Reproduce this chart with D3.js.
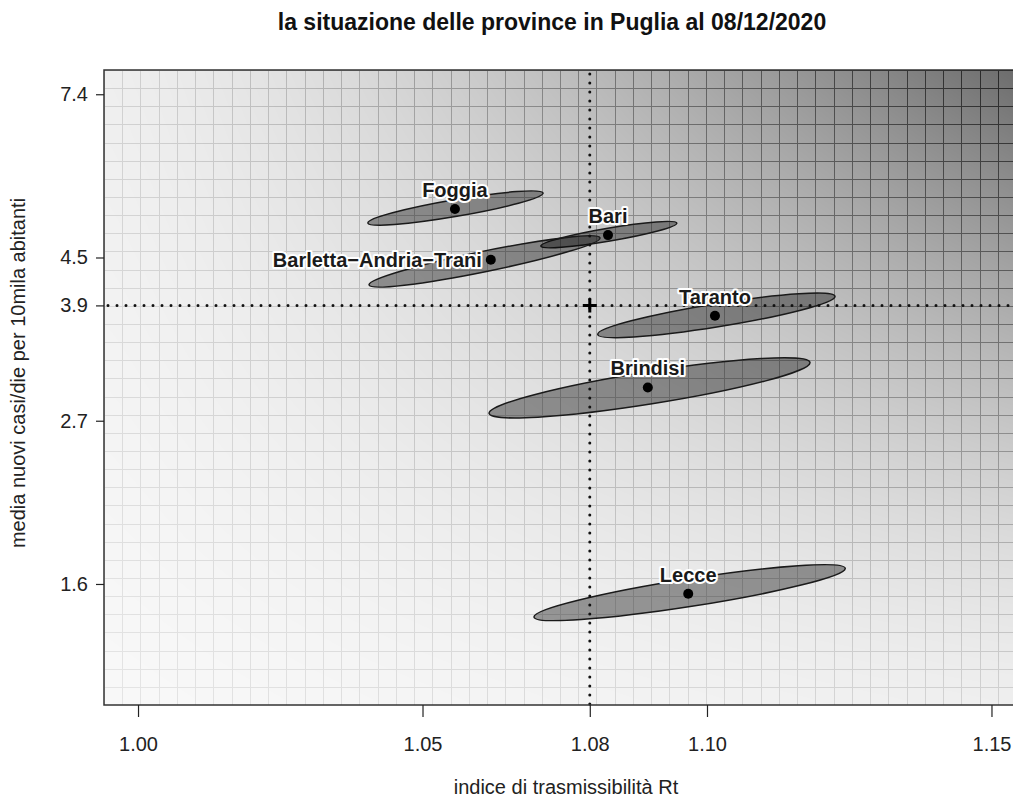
<!DOCTYPE html>
<html><head><meta charset="utf-8">
<script src="https://cdn.jsdelivr.net/npm/d3@7"></script>
<style>
html,body{margin:0;padding:0;background:#fff;}
svg{display:block;font-family:"Liberation Sans",Arial,sans-serif;}
</style></head><body>
<svg id="chart" width="1013" height="799"></svg>
<script>
// ---------- data ----------
const title = "la situazione delle province in Puglia al 08/12/2020";
const xTitle = "indice di trasmissibilità Rt";
const yTitle = "media nuovi casi/die per 10mila abitanti";

const provinces   = ["Foggia", "Bari", "Barletta\u2212Andria\u2212Trani", "Taranto", "Brindisi", "Lecce"];
const rtValues    = [1.0557, 1.0826, 1.0620, 1.1014, 1.0896, 1.0967];
const caseValues  = [5.20, 4.80, 4.45, 3.75, 3.01, 1.60];
// ellipse tips (uncertainty region)
const rtLow        = [1.0404, 1.0708, 1.0406, 1.0808, 1.0617, 1.0696];
const casesAtLow   = [4.98, 4.64, 4.12, 3.54, 2.78, 1.49];
const rtHigh       = [1.0712, 1.0947, 1.0812, 1.1225, 1.1181, 1.1243];
const casesAtHigh  = [5.46, 4.98, 4.76, 3.98, 3.25, 1.73];
const caseSpread   = [0.026, 0.020, 0.032, 0.036, 0.050, 0.043]; // half thickness, log units
const labelSide    = ["top", "top", "left", "top", "top", "top"];

const regionRt = 1.0794;
const regionCases = 3.87;

const xTickValues = [1.00, 1.05, 1.0794, 1.10, 1.15];
const xTickLabels = ["1.00", "1.05", "1.08", "1.10", "1.15"];
const yTickValues = [1.6487, 2.7183, 3.87, 4.4817, 7.3891];
const yTickLabels = ["1.6", "2.7", "3.9", "4.5", "7.4"];

const xDomain = [0.99402, 1.15431];
const yDomain = [1.138, 7.959];

// ---------- layout ----------
const svg = d3.select("#chart");
const plot = {left: 104, top: 70, right: 1016, bottom: 705};
const x = d3.scaleLinear().domain(xDomain).range([plot.left, plot.right]);
const y = d3.scaleLog().domain(yDomain).range([plot.bottom, plot.top]);
const FONT = '"Liberation Sans", Arial, sans-serif';

// ---------- shaded background with grid ----------
(function(){
  const W = plot.right - plot.left, H = plot.bottom - plot.top;
  const cv = document.createElement("canvas");
  cv.width = W; cv.height = H;
  const ctx = cv.getContext("2d");
  const img = ctx.createImageData(W, H);
  const sx = W / 50, sy = H / 35;
  for (let py = 0; py < H; py++) {
    const v = 1 - py / H;
    const onH = Math.abs(py - Math.round(py / sy) * sy) < 0.5;
    for (let px = 0; px < W; px++) {
      const u = px / W;
      let b = 0.975 - 0.04 * (u + v) - 0.47 * Math.pow(u * v, 1.45);
      const onV = Math.abs(px - Math.round(px / sx) * sx) < 0.5;
      if (onV || onH) b = Math.pow(b, 2.2) * 0.95;
      const c = Math.round(b * 255);
      const k = (py * W + px) * 4;
      img.data[k] = c; img.data[k+1] = c; img.data[k+2] = c; img.data[k+3] = 255;
    }
  }
  ctx.putImageData(img, 0, 0);
  svg.append("image")
    .attr("x", plot.left).attr("y", plot.top)
    .attr("width", W).attr("height", H)
    .attr("href", cv.toDataURL());
})();

// ---------- ellipses ----------
const gEll = svg.append("g");
provinces.forEach((p, i) => {
  const x1 = x(rtLow[i]), y1 = y(casesAtLow[i]);
  const x2 = x(rtHigh[i]), y2 = y(casesAtHigh[i]);
  const cx = (x1 + x2) / 2, cy = (y1 + y2) / 2;
  const a = Math.hypot(x2 - x1, y2 - y1) / 2;
  const th = Math.atan2(y2 - y1, x2 - x1);
  const cCenter = y.invert(cy);
  const vpx = y(cCenter / Math.exp(caseSpread[i])) - cy;
  const b = vpx * Math.cos(th);
  gEll.append("ellipse")
    .attr("cx", cx).attr("cy", cy).attr("rx", a).attr("ry", b)
    .attr("transform", `rotate(${th * 180 / Math.PI} ${cx} ${cy})`)
    .attr("fill", "#000").attr("fill-opacity", 0.38)
    .attr("stroke", "#1a1a1a").attr("stroke-width", 1.5);
});

// ---------- reference dotted lines ----------
svg.append("line")
  .attr("x1", x(regionRt)).attr("x2", x(regionRt))
  .attr("y1", plot.top + 4).attr("y2", plot.bottom)
  .attr("stroke", "#111").attr("stroke-width", 3)
  .attr("stroke-linecap", "round").attr("stroke-dasharray", "0 9");
svg.append("line")
  .attr("x1", plot.left + 4).attr("x2", plot.right)
  .attr("y1", y(regionCases)).attr("y2", y(regionCases))
  .attr("stroke", "#111").attr("stroke-width", 3)
  .attr("stroke-linecap", "round").attr("stroke-dasharray", "0 9");
// crosshair
const cxr = x(regionRt), cyr = y(regionCases);
svg.append("path")
  .attr("d", `M${cxr-7},${cyr}H${cxr+7}M${cxr},${cyr-7}V${cyr+7}`)
  .attr("stroke", "#000").attr("stroke-width", 3);

// ---------- points ----------
svg.append("g").selectAll("circle").data(provinces).join("circle")
  .attr("cx", (d, i) => x(rtValues[i]))
  .attr("cy", (d, i) => y(caseValues[i]))
  .attr("r", 5).attr("fill", "#000");

// ---------- labels ----------
svg.append("g").selectAll("text").data(provinces).join("text")
  .attr("x", (d, i) => labelSide[i] === "left" ? x(rtValues[i]) - 9 : x(rtValues[i]))
  .attr("y", (d, i) => labelSide[i] === "left" ? y(caseValues[i]) + 7 : y(caseValues[i]) - 12)
  .attr("text-anchor", (d, i) => labelSide[i] === "left" ? "end" : "middle")
  .attr("font-size", 20).attr("font-weight", "bold").attr("font-family", FONT)
  .attr("fill", "#1a1a1a").attr("stroke", "#fff").attr("stroke-width", 4)
  .attr("stroke-linejoin", "round").attr("paint-order", "stroke")
  .text(d => d);

// ---------- frame ----------
svg.append("rect")
  .attr("x", plot.left).attr("y", plot.top)
  .attr("width", plot.right - plot.left).attr("height", plot.bottom - plot.top)
  .attr("fill", "none").attr("stroke", "#333").attr("stroke-width", 1.5);

// ---------- axes ----------
const yAxis = svg.append("g").attr("transform", `translate(${plot.left},0)`)
  .call(d3.axisLeft(y).tickValues(yTickValues)
    .tickFormat((d, i) => yTickLabels[i]).tickSize(8).tickPadding(8));
const xAxis = svg.append("g").attr("transform", `translate(0,${plot.bottom})`)
  .call(d3.axisBottom(x).tickValues(xTickValues)
    .tickFormat((d, i) => xTickLabels[i]).tickSize(12).tickPadding(20));
[xAxis, yAxis].forEach(g => {
  g.select(".domain").remove();
  g.selectAll(".tick line").attr("stroke", "#222").attr("stroke-width", 1.2);
  g.selectAll(".tick text").attr("font-size", 20).attr("fill", "#222")
    .attr("font-family", FONT);
});

// ---------- titles ----------
svg.append("text").attr("x", 552).attr("y", 30).attr("text-anchor", "middle")
  .attr("font-size", 23).attr("font-weight", "bold").attr("fill", "#111")
  .attr("font-family", FONT).text(title);
svg.append("text").attr("x", 566).attr("y", 794).attr("text-anchor", "middle")
  .attr("font-size", 20).attr("fill", "#222").attr("font-family", FONT).text(xTitle);
svg.append("text").attr("transform", "translate(25,373) rotate(-90)")
  .attr("text-anchor", "middle").attr("font-size", 20).attr("fill", "#222")
  .attr("font-family", FONT).text(yTitle);
</script>
</body></html>
